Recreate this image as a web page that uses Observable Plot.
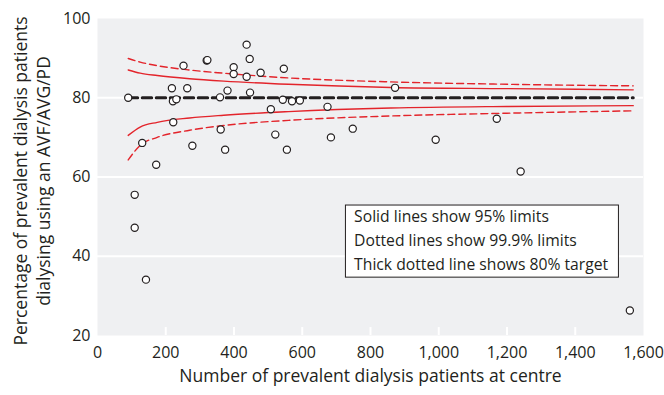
<!DOCTYPE html>
<html><head><meta charset="utf-8">
<script src="https://cdn.jsdelivr.net/npm/d3@7"></script>
<script src="https://cdn.jsdelivr.net/npm/@observablehq/plot@0.6"></script>
<style>body{margin:0;background:#fff;} svg{display:block;}</style>
</head><body><div id="chart"></div>
<script>
// Centres: number of prevalent dialysis patients and % using AVF/AVG/PD
const patients = [90, 109, 109, 131, 142, 172, 218, 221, 222, 231, 252, 263, 278, 320, 322, 359, 361, 374, 381, 399, 399, 437, 437, 446, 447, 478, 508, 521, 543, 546, 555, 570, 593, 674, 684, 748, 872, 991, 1170, 1240, 1560];
const percent  = [80.0, 55.5, 47.2, 68.6, 34.1, 63.1, 82.4, 79.1, 73.8, 79.6, 88.1, 82.4, 67.9, 89.4, 89.5, 80.1, 72.0, 66.9, 81.8, 87.7, 86.0, 93.4, 85.3, 89.8, 81.3, 86.3, 77.1, 70.7, 79.5, 87.3, 66.9, 79.1, 79.3, 77.7, 70.0, 72.2, 82.5, 69.4, 74.7, 61.4, 26.3];

// Funnel limits
const funnelN  = [90, 125, 175, 270, 370, 560, 860, 1200, 1570];
const upper95  = [87.0, 86.2, 85.6, 84.8, 84.2, 83.4, 82.6, 82.3, 82.0];
const lower95  = [70.5, 72.6, 73.8, 74.9, 75.6, 76.5, 77.4, 77.8, 78.0];
const upper999 = [89.9, 89.0, 88.1, 87.0, 86.2, 85.0, 84.0, 83.4, 83.0];
const lower999 = [64.3, 68.0, 70.0, 71.8, 73.0, 74.3, 75.4, 76.1, 76.7];
const target = 80;

const xTicks = [0, 200, 400, 600, 800, 1000, 1200, 1400, 1600];
const yTicks = [20, 40, 60, 80, 100];
const gridY = [40, 60, 80];
const xTitle = "Number of prevalent dialysis patients at centre";
const yTitle = "Percentage of prevalent dialysis patients\ndialysing using an AVF/AVG/PD";
const legendLines = ["Solid lines show 95% limits", "Dotted lines show 99.9% limits", "Thick dotted line shows 80% target"];

const points = patients.map((n, i) => ({n, p: percent[i]}));
const funnel = funnelN.map((n, i) => ({n, u95: upper95[i], l95: lower95[i], u999: upper999[i], l999: lower999[i]}));
const targetLine = [{n: funnelN[0], v: target}, {n: funnelN[funnelN.length - 1], v: target}];

const red = "#e3242b";
const ink = "#231f20";

const chart = Plot.plot({
  width: 664, height: 395,
  marginLeft: 97, marginRight: 21, marginTop: 18, marginBottom: 60,
  style: {fontFamily: "'Open Sans', sans-serif", fontSize: "16px", color: ink, background: "white"},
  x: {domain: [0, 1600], label: null},
  y: {domain: [20, 100], label: null},
  marks: [
    Plot.frame({fill: "#eff0f2", stroke: null}),
    Plot.ruleY(gridY, {stroke: "white", strokeWidth: 2}),
    Plot.ruleX(xTicks.slice(1, -1), {y1: 20, y2: 22, stroke: "white", strokeWidth: 2}),
    Plot.line(funnel, {x: "n", y: "u999", stroke: red, strokeWidth: 1.4, strokeDasharray: "7,4", curve: "monotone-x"}),
    Plot.line(funnel, {x: "n", y: "l999", stroke: red, strokeWidth: 1.4, strokeDasharray: "7,4", curve: "monotone-x"}),
    Plot.line(funnel, {x: "n", y: "u95", stroke: red, strokeWidth: 1.4, curve: "monotone-x"}),
    Plot.line(funnel, {x: "n", y: "l95", stroke: red, strokeWidth: 1.4, curve: "monotone-x"}),
    Plot.line(targetLine, {x: "n", y: "v", stroke: ink, strokeWidth: 3, strokeDasharray: "9.5,4.5"}),
    Plot.dot(points, {x: "n", y: "p", r: 3.6, fill: "white", stroke: ink, strokeWidth: 1.2}),
    Plot.rect([0], {x1: 728, x2: 1528, y1: 34.6, y2: 52.8, fill: "white", stroke: ink, strokeWidth: 1}),
    Plot.text(legendLines, {x: 752, y: (d, i) => 49.8 - i * 5.95, text: d => d, textAnchor: "start", fontSize: 15.7, fill: ink}),
    Plot.axisX(xTicks, {tickSize: 0, tickPadding: 11, tickFormat: d3.format(","), fontSize: 16, fill: ink, label: null}),
    Plot.axisY(yTicks, {tickSize: 0, tickPadding: 7, fontSize: 16, fill: ink, label: null}),
    Plot.text([xTitle], {frameAnchor: "bottom", dy: 46, text: d => d, fontSize: 17.5, fill: ink}),
    Plot.text([yTitle], {frameAnchor: "left", dx: -66.5, dy: 4, rotate: -90, textAnchor: "middle", lineAnchor: "middle", lineHeight: 1.31, text: d => d, fontSize: 17.5, fill: ink})
  ]
});
document.getElementById("chart").append(chart);
</script>
</body></html>
